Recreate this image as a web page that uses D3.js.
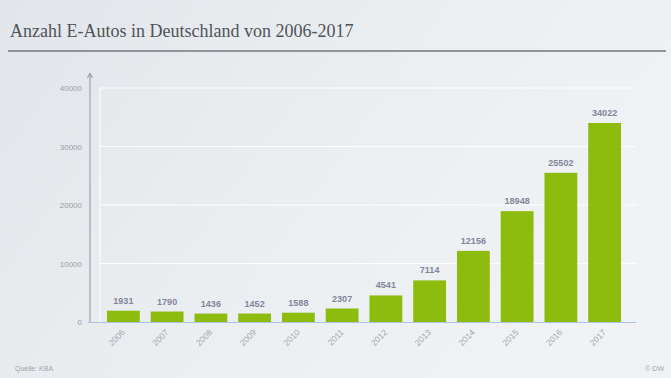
<!DOCTYPE html>
<html>
<head>
<meta charset="utf-8">
<script src="https://cdn.jsdelivr.net/npm/d3@7"></script>
<style>
  html, body { margin: 0; padding: 0; }
  body { width: 671px; height: 378px; overflow: hidden; }
  svg { display: block; }
</style>
</head>
<body>
<svg id="chart" width="671" height="378"></svg>
<script>
// Zugelassene E-Autos in Deutschland (KBA)
const years = ["2006", "2007", "2008", "2009", "2010", "2011", "2012", "2013", "2014", "2015", "2016", "2017"];
const counts = [1931, 1790, 1436, 1452, 1588, 2307, 4541, 7114, 12156, 18948, 25502, 34022];
const yTicks = [0, 10000, 20000, 30000, 40000];

const W = 671, H = 378;
const svg = d3.select("#chart");

// Background gradient
const defs = svg.append("defs");
const bg = defs.append("linearGradient").attr("id", "bg").attr("x1", 0).attr("y1", 0).attr("x2", 1).attr("y2", 0.4);
bg.append("stop").attr("offset", "0%").attr("stop-color", "#e2e5e9");
bg.append("stop").attr("offset", "60%").attr("stop-color", "#eceff2");
bg.append("stop").attr("offset", "100%").attr("stop-color", "#f0f2f5");
svg.append("rect").attr("width", W).attr("height", H).attr("fill", "url(#bg)");

// Title and rule
svg.append("text")
  .attr("x", 10).attr("y", 37)
  .attr("font-family", "'Liberation Serif', 'DejaVu Serif', serif")
  .attr("font-size", 18)
  .attr("fill", "#4f5459")
  .text("Anzahl E-Autos in Deutschland von 2006-2017");
svg.append("line")
  .attr("x1", 8).attr("x2", 666).attr("y1", 51).attr("y2", 51)
  .attr("stroke", "#72777d").attr("stroke-width", 1.3);

// Scales
const x = d3.scaleBand().domain(years).range([101.5, 626.5]).paddingInner(0.25).paddingOuter(0.125);
const y = d3.scaleLinear().domain([0, 40000]).range([322, 88]);

// Gridlines
svg.append("g").selectAll("line").data(yTicks.filter(d => d > 0)).join("line")
  .attr("x1", 100).attr("x2", 636)
  .attr("y1", d => y(d)).attr("y2", d => y(d))
  .attr("stroke", "#ffffff").attr("stroke-width", 1.2).attr("opacity", 0.9);

// Left inner guide
svg.append("line")
  .attr("x1", 100).attr("x2", 100).attr("y1", y(40000)).attr("y2", 322)
  .attr("stroke", "#ffffff").attr("stroke-width", 1);

// Y axis
const yAxis = d3.axisLeft(y).tickValues(yTicks).tickSize(0).tickPadding(8).tickFormat(d3.format("d"));
const gy = svg.append("g").attr("transform", "translate(90,0)").call(yAxis);
gy.select(".domain").remove();
gy.selectAll("text")
  .attr("font-family", "'Liberation Sans', Arial, sans-serif")
  .attr("font-size", 8).attr("fill", "#9a9ea5");
svg.append("line")
  .attr("x1", 90).attr("x2", 90).attr("y1", 74).attr("y2", 323)
  .attr("stroke", "#8f949b").attr("stroke-width", 1);
svg.append("path")
  .attr("d", "M87.5,78 L90,73 L92.5,78")
  .attr("fill", "none").attr("stroke", "#8f949b").attr("stroke-width", 1);

// Bars
svg.append("g").selectAll("rect").data(years).join("rect")
  .attr("x", d => x(d))
  .attr("width", x.bandwidth())
  .attr("y", (d, i) => y(counts[i]))
  .attr("height", (d, i) => y(0) - y(counts[i]))
  .attr("fill", "#8dbb0e");

// Value labels
svg.append("g").selectAll("text").data(years).join("text")
  .attr("x", d => x(d) + x.bandwidth() / 2)
  .attr("y", (d, i) => y(counts[i]) - 7)
  .attr("text-anchor", "middle")
  .attr("font-family", "'Liberation Sans', Arial, sans-serif")
  .attr("font-size", 9)
  .attr("font-weight", "bold")
  .attr("fill", "#80859a")
  .text((d, i) => counts[i]);

// Baseline
svg.append("line")
  .attr("x1", 88).attr("x2", 636).attr("y1", 322.5).attr("y2", 322.5)
  .attr("stroke", "#a9c3e0").attr("stroke-width", 1.2);

// X axis labels
const xAxis = d3.axisBottom(x).tickSize(0).tickPadding(0);
const gx = svg.append("g").attr("transform", "translate(0,323)").call(xAxis);
gx.select(".domain").remove();
gx.selectAll("text")
  .attr("font-family", "'Liberation Sans', Arial, sans-serif")
  .attr("font-size", 8.5).attr("fill", "#a3a7ad")
  .attr("text-anchor", "end")
  .attr("dy", 0)
  .attr("transform", "translate(2,10) rotate(-45)");

// Footer
svg.append("text")
  .attr("x", 15).attr("y", 371)
  .attr("font-family", "'Liberation Sans', Arial, sans-serif")
  .attr("font-size", 7).attr("fill", "#a0a4aa")
  .text("Quelle: KBA");
svg.append("text")
  .attr("x", 664).attr("y", 371)
  .attr("text-anchor", "end")
  .attr("font-family", "'Liberation Sans', Arial, sans-serif")
  .attr("font-size", 7).attr("fill", "#a0a4aa")
  .text("© DW");
</script>
</body>
</html>
